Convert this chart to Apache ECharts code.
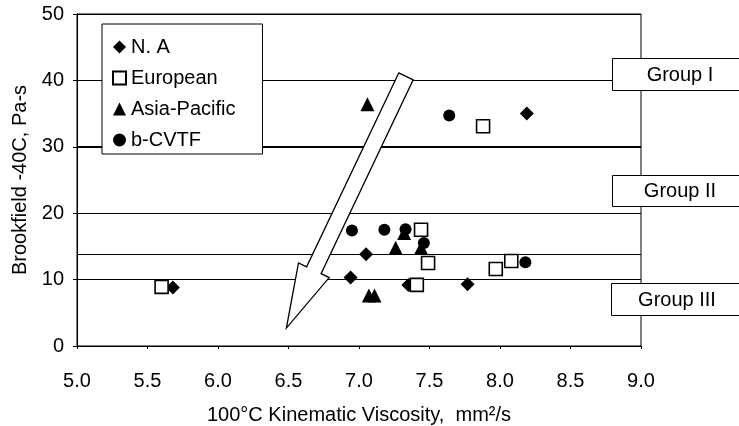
<!DOCTYPE html>
<html>
<head>
<meta charset="utf-8">
<script src="https://cdn.jsdelivr.net/npm/echarts@6/dist/echarts.min.js"></script>
<style>html,body{margin:0;padding:0;background:#fff}#c{width:739px;height:426px}</style>
</head>
<body>
<div id="c"></div>
<script>
// ---- data ----
const xTicks = [5.0, 5.5, 6.0, 6.5, 7.0, 7.5, 8.0, 8.5, 9.0];
const yTicks = [0, 10, 20, 30, 40, 50];
const seriesNames = ['N. A', 'European', 'Asia-Pacific', 'b-CVTF'];
const naData = [[5.68, 8.8], [6.94, 10.3], [7.05, 13.8], [7.35, 9.2], [7.77, 9.3], [8.19, 35.0]];
const europeanData = [[5.60, 8.9], [7.41, 9.2], [7.44, 17.5], [7.49, 12.5], [7.97, 11.6], [8.08, 12.8], [7.88, 33.1]];
const asiaData = [[7.06, 36.4], [7.07, 7.6], [7.11, 7.6], [7.26, 14.8], [7.32, 17.0], [7.44, 14.8]];
const cvtfData = [[6.95, 17.4], [7.18, 17.5], [7.33, 17.6], [7.46, 15.5], [7.64, 34.7], [8.18, 12.6]];
const extraLines = [13.8];          // thin reference line
const boldLines = [30];             // thick reference line
const arrowEnds = [[7.333, 40.6, 6.485, 2.7]]; // tail x,y -> tip x,y
const groupLabels = ['Group I', 'Group II', 'Group III'];

const FONT = 'Liberation Sans, Arial, Helvetica, sans-serif';
const chart = echarts.init(document.getElementById('c'), null, {renderer: 'canvas'});

function arrowItem(params, api) {
  const t = api.coord([api.value(0), api.value(1)]);
  const h = api.coord([api.value(2), api.value(3)]);
  const dx = h[0] - t[0], dy = h[1] - t[1];
  const len = Math.sqrt(dx * dx + dy * dy);
  const ux = dx / len, uy = dy / len;
  const nx = -uy, ny = ux;
  const w = 8, W = 17, L = 64;
  const bx = h[0] - ux * L, by = h[1] - uy * L;
  const pts = [
    [t[0] + nx * w, t[1] + ny * w],
    [bx + nx * w, by + ny * w],
    [bx + nx * W, by + ny * W],
    [h[0], h[1]],
    [bx - nx * W, by - ny * W],
    [bx - nx * w, by - ny * w],
    [t[0] - nx * w, t[1] - ny * w]
  ];
  return {
    type: 'polygon',
    shape: {points: pts},
    style: {fill: '#fff', stroke: '#000', lineWidth: 1.3}
  };
}

const boxStyle = {fill: '#fff', stroke: '#000', lineWidth: 1};
const txtStyle = {fill: '#000', font: '20px ' + FONT, textAlign: 'center', textVerticalAlign: 'middle'};

chart.setOption({
  animation: false,
  backgroundColor: '#fff',
  textStyle: {fontFamily: FONT, color: '#000'},
  grid: {left: 77, right: 98, top: 14, bottom: 80, show: true, borderColor: '#000', borderWidth: 1,
    backgroundColor: 'transparent', containLabel: false, outerBoundsMode: 'none'},
  legend: {
    orient: 'vertical', left: 102, top: 24,
    data: seriesNames,
    itemWidth: 13, itemHeight: 13, itemGap: 11,
    padding: [13, 27, 4, 10],
    backgroundColor: '#fff', borderColor: '#000', borderWidth: 1, borderRadius: 0,
    textStyle: {fontSize: 20, color: '#000', fontFamily: FONT},
    selectedMode: false,
    z: 10
  },
  xAxis: {
    type: 'value', min: xTicks[0], max: xTicks[xTicks.length - 1], interval: 0.5,
    name: '100°C Kinematic Viscosity,  mm²/s', nameLocation: 'middle', nameGap: 59,
    nameTextStyle: {fontSize: 20, color: '#000', fontFamily: FONT},
    axisLine: {lineStyle: {color: '#000', width: 1}},
    axisTick: {show: true, length: 3, lineStyle: {color: '#000'}},
    axisLabel: {fontSize: 20, color: '#000', margin: 25, formatter: v => v.toFixed(1), fontFamily: FONT},
    splitLine: {show: false}
  },
  yAxis: {
    type: 'value', min: yTicks[0], max: yTicks[yTicks.length - 1], interval: 10,
    name: 'Brookfield -40C, Pa-s', nameLocation: 'middle', nameGap: 43,
    nameTextStyle: {fontSize: 20, color: '#000', fontFamily: FONT},
    axisLine: {show: true, lineStyle: {color: '#000', width: 1}},
    axisTick: {show: true, length: 4, lineStyle: {color: '#000'}},
    axisLabel: {fontSize: 20, color: '#000', margin: 13, fontFamily: FONT},
    splitLine: {show: true, lineStyle: {color: '#000', width: 1}}
  },
  series: [
    {
      type: 'custom', name: 'arrow', renderItem: arrowItem, data: arrowEnds,
      clip: false, silent: true, z: 3,
      markLine: {
        silent: true, symbol: 'none', label: {show: false}, animation: false,
        data: extraLines.map(v => ({yAxis: v, lineStyle: {color: '#000', width: 1, type: 'solid'}}))
          .concat(boldLines.map(v => ({yAxis: v, lineStyle: {color: '#000', width: 2, type: 'solid'}}))),
        z: 1
      }
    },
    {name: seriesNames[0], type: 'scatter', data: naData, symbol: 'diamond', symbolSize: 14,
      itemStyle: {color: '#000', opacity: 1}, z: 5},
    {name: seriesNames[1], type: 'scatter', data: europeanData, symbol: 'rect', symbolSize: 13,
      itemStyle: {color: '#fff', borderColor: '#000', borderWidth: 1.6, opacity: 1}, z: 5},
    {name: seriesNames[2], type: 'scatter', data: asiaData, symbol: 'triangle', symbolSize: 14,
      itemStyle: {color: '#000', opacity: 1}, z: 5},
    {name: seriesNames[3], type: 'scatter', data: cvtfData, symbol: 'circle', symbolSize: 12,
      itemStyle: {color: '#000', opacity: 1}, z: 5}
  ],
  graphic: [
    {type: 'rect', shape: {x: 612.5, y: 58.5, width: 140, height: 32}, style: boxStyle, z: 20},
    {type: 'text', x: 680, y: 75, style: Object.assign({text: groupLabels[0]}, txtStyle), z: 21},
    {type: 'rect', shape: {x: 612.5, y: 175.5, width: 140, height: 31}, style: boxStyle, z: 20},
    {type: 'text', x: 680, y: 191, style: Object.assign({text: groupLabels[1]}, txtStyle), z: 21},
    {type: 'rect', shape: {x: 611.5, y: 283.5, width: 140, height: 32}, style: boxStyle, z: 20},
    {type: 'text', x: 677, y: 300, style: Object.assign({text: groupLabels[2]}, txtStyle), z: 21}
  ]
});
</script>
</body>
</html>
